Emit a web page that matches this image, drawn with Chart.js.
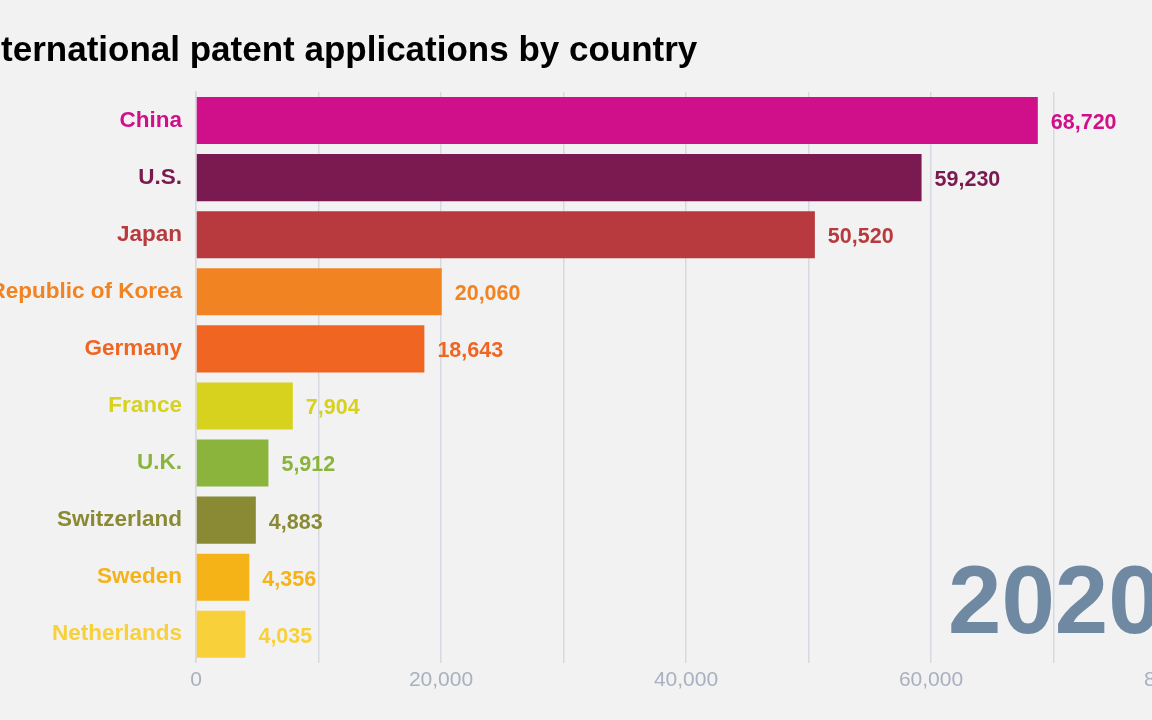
<!DOCTYPE html>
<html>
<head>
<meta charset="utf-8">
<script src="https://cdn.jsdelivr.net/npm/chart.js@4"></script>
<style>
  html, body {
    margin: 0;
    padding: 0;
    background: #f2f2f2;
    overflow: hidden;
    width: 1152px;
    height: 720px;
  }
  #myChart {
    position: absolute;
    left: -30px;
    top: 0;
  }
</style>
</head>
<body>
<canvas id="myChart" width="1246" height="720"></canvas>
<script>
// data
var countries = [
  "China",
  "U.S.",
  "Japan",
  "Republic of Korea",
  "Germany",
  "France",
  "U.K.",
  "Switzerland",
  "Sweden",
  "Netherlands",
];
var applications = [68720, 59230, 50520, 20060, 18643, 7904, 5912, 4883, 4356, 4035];
var barColors = [
  "#d0108a",
  "#7a1a50",
  "#b83a3e",
  "#f28322",
  "#f06522",
  "#d6d21e",
  "#8ab43c",
  "#8a8a35",
  "#f5b318",
  "#f8d03a",
];
var year = "2020";
var titleText = "International patent applications by country";

const font = "'Liberation Sans', Arial, sans-serif";

// value labels at the end of each bar + big year text
const barLabels = {
  id: "barLabels",
  beforeDatasetsDraw(chart) {
    const ctx = chart.ctx;
    const area = chart.chartArea;
    ctx.save();
    ctx.font = "bold 96px " + font;
    ctx.fillStyle = "#7089a3";
    ctx.textAlign = "left";
    ctx.textBaseline = "alphabetic";
    ctx.fillText(year, area.left + 752, area.bottom - 30);
    ctx.restore();
  },
  afterDatasetsDraw(chart) {
    const ctx = chart.ctx;
    const meta = chart.getDatasetMeta(0);
    ctx.save();
    ctx.font = "bold 21.5px " + font;
    ctx.textAlign = "left";
    ctx.textBaseline = "middle";
    meta.data.forEach(function (bar, i) {
      ctx.fillStyle = barColors[i];
      ctx.fillText(applications[i].toLocaleString("en-US"), bar.x + 13, bar.y + 2.5);
    });
    ctx.restore();
  },
};

var config = {
  type: "bar",
  data: {
    labels: countries,
    datasets: [
      {
        label: "Applications",
        data: applications,
        backgroundColor: barColors,
        borderWidth: 0,
        barPercentage: 1,
        categoryPercentage: 0.825,
      },
    ],
  },
  options: {
    responsive: false,
    animation: false,
    indexAxis: "y",
    layout: {
      padding: { left: 0, right: 40, top: 0, bottom: 22 },
    },
    plugins: {
      legend: { display: false },
      tooltip: { enabled: false },
      title: {
        display: true,
        text: titleText,
        align: "start",
        color: "#000000",
        font: { family: font, size: 35, weight: "bold" },
        padding: { top: 30, bottom: 20 },
      },
    },
    scales: {
      x: {
        min: 0,
        max: 80000,
        grid: {
          color: "#d6d9df",
          lineWidth: 1.5,
          drawTicks: false,
        },
        border: { display: false },
        ticks: {
          stepSize: 10000,
          autoSkip: false,
          maxRotation: 0,
          padding: 5,
          color: "#a9b0c0",
          font: { family: font, size: 21 },
          callback: function (value) {
            return value % 20000 === 0 ? value.toLocaleString("en-US") : "";
          },
        },
      },
      y: {
        grid: { display: false },
        border: { display: true, color: "#d6d9df", width: 1.5 },
        afterFit: function (scale) {
          scale.width = 226;
        },
        ticks: {
          padding: 6,
          color: function (context) {
            return barColors[context.index];
          },
          font: { family: font, size: 22.5, weight: "bold" },
        },
      },
    },
  },
  plugins: [barLabels],
};

const myChart = new Chart(document.getElementById("myChart"), config);
</script>
</body>
</html>
